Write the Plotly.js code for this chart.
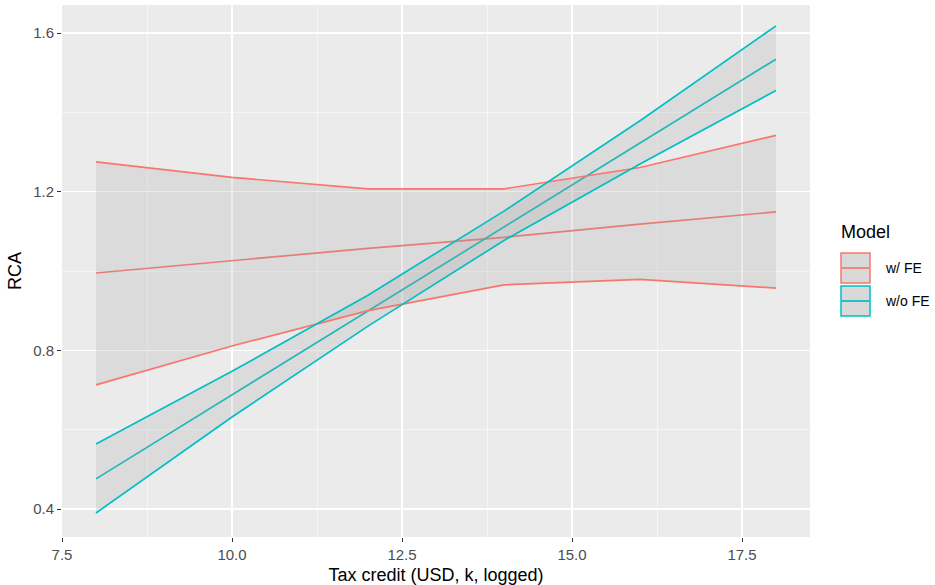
<!DOCTYPE html>
<html>
<head>
<meta charset="utf-8">
<script src="https://cdn.plot.ly/plotly-3.0.1.min.js"></script>
<style>html,body{margin:0;padding:0;background:#fff;}#chart{width:935px;height:585px;}</style>
</head>
<body>
<div id="chart"></div>
<script>
// Data
var xVals = [8, 10, 12, 14, 16, 18];
var feFit   = [0.995, 1.026, 1.057, 1.085, 1.118, 1.149];
var feLower = [0.713, 0.811, 0.900, 0.965, 0.979, 0.957];
var feUpper = [1.275, 1.236, 1.207, 1.207, 1.261, 1.342];
var nofeFit   = [0.476, 0.688, 0.900, 1.112, 1.324, 1.534];
var nofeLower = [0.390, 0.632, 0.861, 1.077, 1.270, 1.455];
var nofeUpper = [0.564, 0.747, 0.939, 1.151, 1.379, 1.618];
var modelNames = ["w/ FE", "w/o FE"];
var xTicks = [7.5, 10.0, 12.5, 15.0, 17.5];
var xTickText = ["7.5", "10.0", "12.5", "15.0", "17.5"];
var yTicks = [0.4, 0.8, 1.2, 1.6];
var yTickText = ["0.4", "0.8", "1.2", "1.6"];
var xRange = [7.5, 18.5];
var yRange = [0.3294, 1.6706];

var RED = "#F8766D", CYAN = "#00BFC4";
var RIBBON = "rgba(153,153,153,0.2)";
var LW = 1.7;

function line(y, color) {
  return {x: xVals, y: y, mode: "lines", line: {color: color, width: LW}, showlegend: false, hoverinfo: "skip"};
}
function ghost(y) {
  return {x: xVals, y: y, mode: "lines", line: {width: 0, color: "rgba(0,0,0,0)"}, showlegend: false, hoverinfo: "skip"};
}
function band(y) {
  return {x: xVals, y: y, mode: "lines", fill: "tonexty", fillcolor: RIBBON, line: {width: 0, color: "rgba(0,0,0,0)"}, showlegend: false, hoverinfo: "skip"};
}

var traces = [
  line(feFit, RED), line(nofeFit, CYAN),
  ghost(feLower), band(feUpper),
  ghost(nofeLower), band(nofeUpper),
  line(feLower, RED), line(feUpper, RED),
  line(nofeLower, CYAN), line(nofeUpper, CYAN)
];

// legend geometry (pixel -> paper)
var L = 62, R = 810, T = 5, B = 537;
function px(x) { return (x - L) / (R - L); }
function py(y) { return (B - y) / (B - T); }
var colors = [RED, CYAN];
var keyTops = [253, 286];
var shapes = [], annotations = [];
keyTops.forEach(function (top, i) {
  shapes.push({type: "rect", xref: "paper", yref: "paper", x0: px(841), x1: px(870), y0: py(top + 30), y1: py(top),
    fillcolor: "#D9D9D9", line: {color: colors[i], width: 1.5}, layer: "above"});
  shapes.push({type: "line", xref: "paper", yref: "paper", x0: px(842), x1: px(869), y0: py(top + 15), y1: py(top + 15),
    line: {color: colors[i], width: LW}, layer: "above"});
  annotations.push({xref: "paper", yref: "paper", x: px(883), y: py(top + 15), xanchor: "left", yanchor: "middle",
    text: modelNames[i], showarrow: false, font: {family: "Liberation Sans, Arial, sans-serif", size: 14, color: "#000"}});
});
annotations.push({xref: "paper", yref: "paper", x: px(839), y: py(232), xanchor: "left", yanchor: "middle",
  text: "Model", showarrow: false, font: {family: "Liberation Sans, Arial, sans-serif", size: 18, color: "#000"}});

var layout = {
  width: 935, height: 585,
  margin: {l: L, r: 935 - R, t: T, b: 585 - B, pad: 0},
  paper_bgcolor: "#FFFFFF", plot_bgcolor: "#EBEBEB",
  font: {family: "Liberation Sans, Arial, sans-serif", color: "#4D4D4D"},
  showlegend: false,
  xaxis: {
    range: xRange, zeroline: false, automargin: false,
    tickvals: xTicks, ticktext: xTickText, ticks: "outside", ticklen: 4, tickwidth: 1, tickcolor: "#333333",
    tickfont: {size: 15, color: "#4D4D4D"},
    showgrid: true, gridcolor: "#FFFFFF", gridwidth: 1.1, showline: false,
    minor: {tick0: 7.5, dtick: 1.25, showgrid: true, gridcolor: "#FFFFFF", gridwidth: 0.55, ticklen: 0},
    title: {text: "Tax credit (USD, k, logged)", font: {size: 18, color: "#000000"}, standoff: 7}
  },
  yaxis: {
    range: yRange, zeroline: false, automargin: false,
    tickvals: yTicks, ticktext: yTickText, ticks: "outside", ticklen: 4, tickwidth: 1, tickcolor: "#333333",
    tickfont: {size: 15, color: "#4D4D4D"},
    showgrid: true, gridcolor: "#FFFFFF", gridwidth: 1.1, showline: false,
    minor: {tick0: 0.4, dtick: 0.2, showgrid: true, gridcolor: "#FFFFFF", gridwidth: 0.55, ticklen: 0},
    title: {text: "RCA", font: {size: 18, color: "#000000"}, standoff: 6}
  },
  shapes: shapes,
  annotations: annotations
};

Plotly.newPlot("chart", traces, layout, {displayModeBar: false, staticPlot: true});
</script>
</body>
</html>
